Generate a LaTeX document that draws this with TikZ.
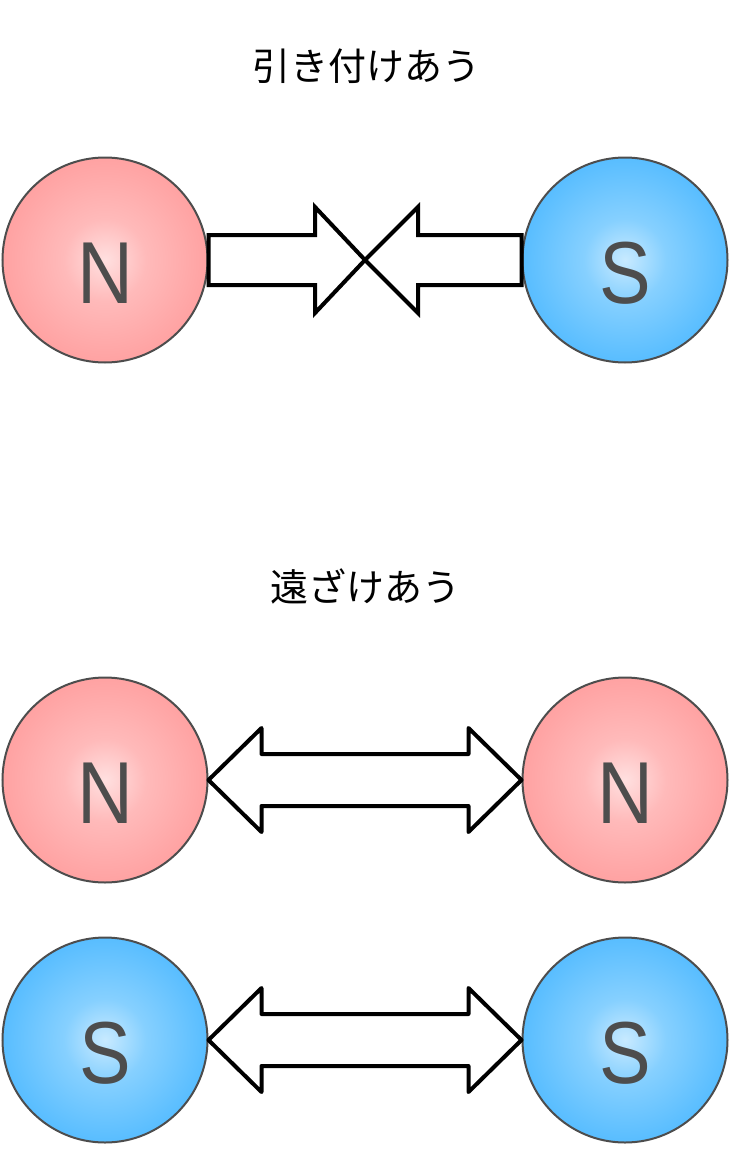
\documentclass[tikz,border=0pt]{standalone}
\usepackage{fontspec}
\setmainfont{Liberation Sans}
\newfontfamily\poleface[FakeStretch=0.88]{Liberation Sans}
\newfontfamily\cjk{Noto Sans CJK JP}
\usetikzlibrary{calc}
\definecolor{pinkA}{HTML}{FFE0E0}
\definecolor{pinkB}{HTML}{FFBABA}
\definecolor{pinkC}{HTML}{FFA2A2}
\definecolor{pinkD}{HTML}{FF9090}
\definecolor{blueA}{HTML}{C8EAFF}
\definecolor{blueB}{HTML}{86D0FF}
\definecolor{blueC}{HTML}{58BDFF}
\definecolor{blueD}{HTML}{38ACFF}
\definecolor{rimgray}{HTML}{4D4D4D}
\pgfdeclareradialshading{pinkball}{\pgfpoint{0bp}{0bp}}{color(0bp)=(pinkA); color(10bp)=(pinkB); color(25bp)=(pinkC); color(48bp)=(pinkD); color(50bp)=(pinkD)}
\pgfdeclareradialshading{blueball}{\pgfpoint{0bp}{0bp}}{color(0bp)=(blueA); color(10bp)=(blueB); color(25bp)=(blueC); color(48bp)=(blueD); color(50bp)=(blueD)}
\tikzset{
  ball/.style={circle, draw=rimgray, line width=2pt, minimum size=205pt, inner sep=0pt,
    text=rimgray, font=\poleface\fontsize{88}{88}\selectfont, text height=87pt, text depth=0pt},
  nball/.style={ball, shading=pinkball},
  sball/.style={ball, shading=blueball},
  fatarrow/.style={draw=black, fill=white, line width=4pt},
  title/.style={font=\cjk\fontsize{38}{38}\selectfont, inner sep=0pt}
}
\begin{document}
\begin{tikzpicture}[x=1pt, y=-1pt]
\useasboundingbox (0,0) rectangle (731,1153);
\node[title] (t1) at (366,66) {引き付けあう};
\node[title] (t2) at (365,586) {遠ざけあう};
\node[nball] (a1) at (105,260) {N};
\node[sball] (a2) at (625,260) {S};
\node[nball] (b1) at (105,780) {N};
\node[nball] (b2) at (625,780) {N};
\node[sball] (c1) at (105,1040) {S};
\node[sball] (c2) at (625,1040) {S};
% attracting arrows
\coordinate (mid) at ($(a1.center)!0.5!(a2.center)$);
\draw[fatarrow, line join=miter]
  ($(a1.east)+(0,-25)$) -- ($(mid)+(-50,-25)$) -- ($(mid)+(-50,-53)$) -- (mid)
  -- ($(mid)+(-50,53)$) -- ($(mid)+(-50,25)$) -- ($(a1.east)+(0,25)$) -- cycle;
\draw[fatarrow, line join=miter]
  ($(a2.west)+(0,-25)$) -- ($(mid)+(53,-25)$) -- ($(mid)+(53,-53)$) -- (mid)
  -- ($(mid)+(53,53)$) -- ($(mid)+(53,25)$) -- ($(a2.west)+(0,25)$) -- cycle;
% repelling arrows
\foreach \l/\r in {b1/b2, c1/c2}{
  \draw[fatarrow, line join=round]
    (\l.east) -- ($(\l.east)+(53,-52)$) -- ($(\l.east)+(53,-26)$)
    -- ($(\r.west)+(-53,-26)$) -- ($(\r.west)+(-53,-52)$) -- (\r.west)
    -- ($(\r.west)+(-53,52)$) -- ($(\r.west)+(-53,26)$)
    -- ($(\l.east)+(53,26)$) -- ($(\l.east)+(53,52)$) -- cycle;
}
\end{tikzpicture}
\end{document}
